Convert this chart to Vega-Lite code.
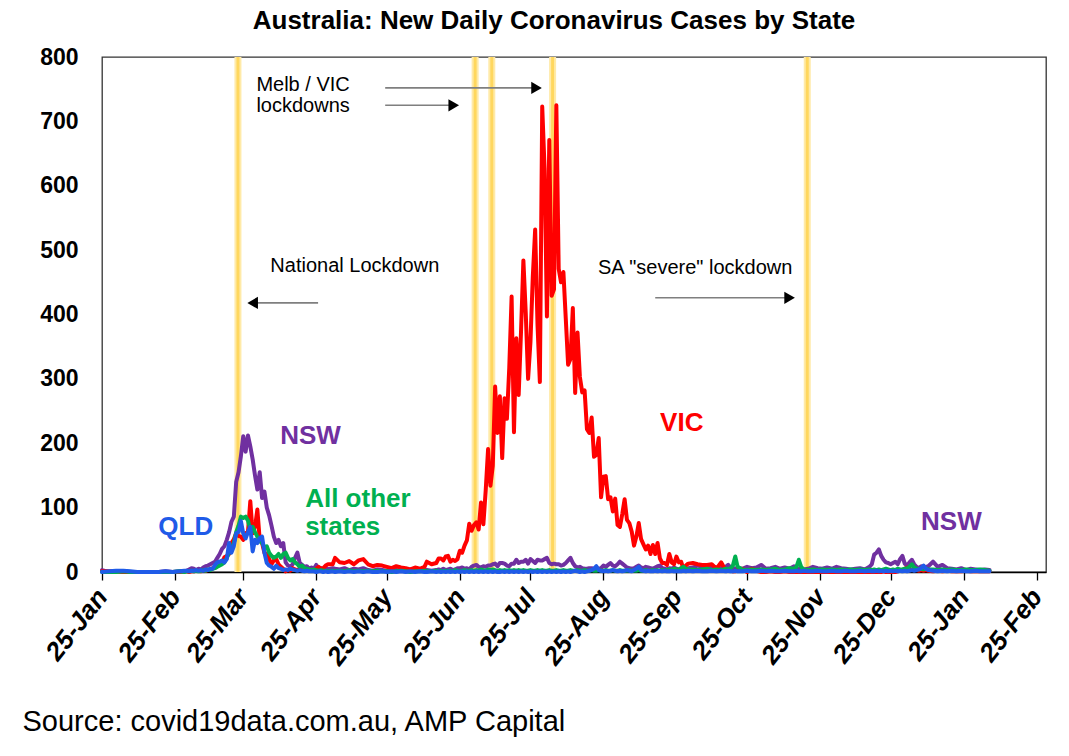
{
  "$schema": "https://vega.github.io/schema/vega-lite/v6.json",
  "width": 944,
  "height": 515,
  "autosize": "none",
  "padding": {"left": 102, "top": 57, "right": 23, "bottom": 184},
  "background": "white",
  "config": {
    "font": "Liberation Sans",
    "view": {"stroke": "#333333", "strokeWidth": 1.3}
  },
  "title": {
    "text": "Australia: New Daily Coronavirus Cases by State",
    "font": "Liberation Sans",
    "fontSize": 26,
    "fontWeight": "bold",
    "color": "black",
    "anchor": "middle",
    "dx": -20,
    "offset": 12
  },
  "datasets": {
    "cases": [
      {"d": "2020-01-25", "NSW": 3, "VIC": 1, "QLD": 0, "OTH": 0},
      {"d": "2020-01-28", "NSW": 0, "VIC": 1, "QLD": 1, "OTH": 0},
      {"d": "2020-01-31", "NSW": 1, "VIC": 1, "QLD": 2, "OTH": 0},
      {"d": "2020-02-03", "NSW": 0, "VIC": 0, "QLD": 2, "OTH": 1},
      {"d": "2020-02-06", "NSW": 0, "VIC": 0, "QLD": 1, "OTH": 0},
      {"d": "2020-02-09", "NSW": 0, "VIC": 0, "QLD": 0, "OTH": 0},
      {"d": "2020-02-12", "NSW": 0, "VIC": 0, "QLD": 0, "OTH": 0},
      {"d": "2020-02-15", "NSW": 0, "VIC": 0, "QLD": 0, "OTH": 0},
      {"d": "2020-02-18", "NSW": 0, "VIC": 0, "QLD": 0, "OTH": 0},
      {"d": "2020-02-21", "NSW": 1, "VIC": 0, "QLD": 1, "OTH": 0},
      {"d": "2020-02-24", "NSW": 0, "VIC": 0, "QLD": 0, "OTH": 0},
      {"d": "2020-02-27", "NSW": 1, "VIC": 0, "QLD": 1, "OTH": 1},
      {"d": "2020-02-29", "NSW": 1, "VIC": 1, "QLD": 2, "OTH": 0},
      {"d": "2020-03-01", "NSW": 2, "VIC": 1, "QLD": 2, "OTH": 1},
      {"d": "2020-03-02", "NSW": 4, "VIC": 0, "QLD": 1, "OTH": 1},
      {"d": "2020-03-03", "NSW": 6, "VIC": 1, "QLD": 2, "OTH": 2},
      {"d": "2020-03-04", "NSW": 5, "VIC": 1, "QLD": 2, "OTH": 1},
      {"d": "2020-03-05", "NSW": 3, "VIC": 2, "QLD": 3, "OTH": 2},
      {"d": "2020-03-06", "NSW": 5, "VIC": 2, "QLD": 2, "OTH": 1},
      {"d": "2020-03-07", "NSW": 4, "VIC": 1, "QLD": 3, "OTH": 2},
      {"d": "2020-03-08", "NSW": 7, "VIC": 3, "QLD": 2, "OTH": 3},
      {"d": "2020-03-09", "NSW": 9, "VIC": 2, "QLD": 4, "OTH": 2},
      {"d": "2020-03-10", "NSW": 10, "VIC": 3, "QLD": 3, "OTH": 4},
      {"d": "2020-03-11", "NSW": 12, "VIC": 4, "QLD": 5, "OTH": 3},
      {"d": "2020-03-12", "NSW": 14, "VIC": 6, "QLD": 5, "OTH": 5},
      {"d": "2020-03-13", "NSW": 16, "VIC": 7, "QLD": 11, "OTH": 6},
      {"d": "2020-03-14", "NSW": 22, "VIC": 9, "QLD": 15, "OTH": 8},
      {"d": "2020-03-15", "NSW": 28, "VIC": 12, "QLD": 16, "OTH": 10},
      {"d": "2020-03-16", "NSW": 36, "VIC": 14, "QLD": 18, "OTH": 12},
      {"d": "2020-03-17", "NSW": 40, "VIC": 23, "QLD": 15, "OTH": 15},
      {"d": "2020-03-18", "NSW": 50, "VIC": 25, "QLD": 20, "OTH": 22},
      {"d": "2020-03-19", "NSW": 62, "VIC": 28, "QLD": 45, "OTH": 30},
      {"d": "2020-03-20", "NSW": 78, "VIC": 45, "QLD": 30, "OTH": 35},
      {"d": "2020-03-21", "NSW": 86, "VIC": 51, "QLD": 40, "OTH": 45},
      {"d": "2020-03-22", "NSW": 140, "VIC": 60, "QLD": 60, "OTH": 62},
      {"d": "2020-03-23", "NSW": 155, "VIC": 56, "QLD": 62, "OTH": 72},
      {"d": "2020-03-24", "NSW": 180, "VIC": 55, "QLD": 79, "OTH": 86},
      {"d": "2020-03-25", "NSW": 211, "VIC": 50, "QLD": 60, "OTH": 84},
      {"d": "2020-03-26", "NSW": 187, "VIC": 60, "QLD": 52, "OTH": 86},
      {"d": "2020-03-27", "NSW": 212, "VIC": 62, "QLD": 62, "OTH": 80},
      {"d": "2020-03-28", "NSW": 195, "VIC": 110, "QLD": 70, "OTH": 66},
      {"d": "2020-03-29", "NSW": 175, "VIC": 60, "QLD": 32, "OTH": 70},
      {"d": "2020-03-30", "NSW": 150, "VIC": 70, "QLD": 50, "OTH": 62},
      {"d": "2020-03-31", "NSW": 128, "VIC": 97, "QLD": 45, "OTH": 55},
      {"d": "2020-04-01", "NSW": 155, "VIC": 50, "QLD": 53, "OTH": 48},
      {"d": "2020-04-02", "NSW": 115, "VIC": 45, "QLD": 55, "OTH": 45},
      {"d": "2020-04-03", "NSW": 125, "VIC": 30, "QLD": 30, "OTH": 38},
      {"d": "2020-04-04", "NSW": 100, "VIC": 28, "QLD": 14, "OTH": 40},
      {"d": "2020-04-05", "NSW": 88, "VIC": 20, "QLD": 10, "OTH": 30},
      {"d": "2020-04-06", "NSW": 72, "VIC": 12, "QLD": 8, "OTH": 25},
      {"d": "2020-04-07", "NSW": 55, "VIC": 18, "QLD": 5, "OTH": 22},
      {"d": "2020-04-08", "NSW": 45, "VIC": 20, "QLD": 10, "OTH": 24},
      {"d": "2020-04-09", "NSW": 50, "VIC": 12, "QLD": 6, "OTH": 28},
      {"d": "2020-04-10", "NSW": 40, "VIC": 8, "QLD": 5, "OTH": 22},
      {"d": "2020-04-11", "NSW": 45, "VIC": 5, "QLD": 3, "OTH": 28},
      {"d": "2020-04-12", "NSW": 15, "VIC": 1, "QLD": 4, "OTH": 30},
      {"d": "2020-04-13", "NSW": 10, "VIC": 3, "QLD": 3, "OTH": 22},
      {"d": "2020-04-14", "NSW": 8, "VIC": 2, "QLD": 5, "OTH": 18},
      {"d": "2020-04-15", "NSW": 12, "VIC": 6, "QLD": 4, "OTH": 20},
      {"d": "2020-04-16", "NSW": 22, "VIC": 4, "QLD": 3, "OTH": 15},
      {"d": "2020-04-17", "NSW": 30, "VIC": 3, "QLD": 2, "OTH": 12},
      {"d": "2020-04-18", "NSW": 14, "VIC": 5, "QLD": 3, "OTH": 8},
      {"d": "2020-04-19", "NSW": 11, "VIC": 3, "QLD": 2, "OTH": 10},
      {"d": "2020-04-20", "NSW": 8, "VIC": 2, "QLD": 1, "OTH": 6},
      {"d": "2020-04-21", "NSW": 9, "VIC": 3, "QLD": 2, "OTH": 5},
      {"d": "2020-04-22", "NSW": 5, "VIC": 2, "QLD": 1, "OTH": 4},
      {"d": "2020-04-23", "NSW": 7, "VIC": 3, "QLD": 1, "OTH": 3},
      {"d": "2020-04-24", "NSW": 5, "VIC": 2, "QLD": 1, "OTH": 4},
      {"d": "2020-04-25", "NSW": 11, "VIC": 5, "QLD": 0, "OTH": 3},
      {"d": "2020-04-26", "NSW": 4, "VIC": 8, "QLD": 1, "OTH": 2},
      {"d": "2020-04-27", "NSW": 6, "VIC": 5, "QLD": 1, "OTH": 3},
      {"d": "2020-04-28", "NSW": 3, "VIC": 6, "QLD": 0, "OTH": 2},
      {"d": "2020-04-29", "NSW": 7, "VIC": 10, "QLD": 1, "OTH": 2},
      {"d": "2020-04-30", "NSW": 4, "VIC": 12, "QLD": 0, "OTH": 1},
      {"d": "2020-05-02", "NSW": 6, "VIC": 12, "QLD": 1, "OTH": 2},
      {"d": "2020-05-03", "NSW": 5, "VIC": 22, "QLD": 0, "OTH": 1},
      {"d": "2020-05-05", "NSW": 4, "VIC": 15, "QLD": 1, "OTH": 2},
      {"d": "2020-05-07", "NSW": 6, "VIC": 14, "QLD": 0, "OTH": 1},
      {"d": "2020-05-09", "NSW": 3, "VIC": 17, "QLD": 1, "OTH": 3},
      {"d": "2020-05-11", "NSW": 5, "VIC": 12, "QLD": 0, "OTH": 1},
      {"d": "2020-05-13", "NSW": 4, "VIC": 18, "QLD": 1, "OTH": 2},
      {"d": "2020-05-15", "NSW": 6, "VIC": 20, "QLD": 0, "OTH": 1},
      {"d": "2020-05-17", "NSW": 3, "VIC": 12, "QLD": 1, "OTH": 2},
      {"d": "2020-05-19", "NSW": 2, "VIC": 9, "QLD": 0, "OTH": 1},
      {"d": "2020-05-21", "NSW": 4, "VIC": 11, "QLD": 0, "OTH": 2},
      {"d": "2020-05-23", "NSW": 3, "VIC": 10, "QLD": 1, "OTH": 1},
      {"d": "2020-05-25", "NSW": 2, "VIC": 8, "QLD": 0, "OTH": 1},
      {"d": "2020-05-27", "NSW": 4, "VIC": 6, "QLD": 1, "OTH": 0},
      {"d": "2020-05-29", "NSW": 3, "VIC": 9, "QLD": 0, "OTH": 1},
      {"d": "2020-05-31", "NSW": 2, "VIC": 7, "QLD": 1, "OTH": 2},
      {"d": "2020-06-02", "NSW": 3, "VIC": 6, "QLD": 0, "OTH": 1},
      {"d": "2020-06-04", "NSW": 2, "VIC": 4, "QLD": 1, "OTH": 0},
      {"d": "2020-06-06", "NSW": 3, "VIC": 7, "QLD": 0, "OTH": 1},
      {"d": "2020-06-08", "NSW": 2, "VIC": 5, "QLD": 1, "OTH": 1},
      {"d": "2020-06-10", "NSW": 4, "VIC": 8, "QLD": 0, "OTH": 2},
      {"d": "2020-06-11", "NSW": 3, "VIC": 16, "QLD": 0, "OTH": 1},
      {"d": "2020-06-13", "NSW": 2, "VIC": 12, "QLD": 1, "OTH": 1},
      {"d": "2020-06-15", "NSW": 3, "VIC": 14, "QLD": 0, "OTH": 2},
      {"d": "2020-06-16", "NSW": 4, "VIC": 21, "QLD": 1, "OTH": 1},
      {"d": "2020-06-17", "NSW": 3, "VIC": 21, "QLD": 0, "OTH": 2},
      {"d": "2020-06-18", "NSW": 5, "VIC": 18, "QLD": 1, "OTH": 1},
      {"d": "2020-06-19", "NSW": 3, "VIC": 24, "QLD": 0, "OTH": 2},
      {"d": "2020-06-20", "NSW": 4, "VIC": 25, "QLD": 1, "OTH": 1},
      {"d": "2020-06-21", "NSW": 5, "VIC": 16, "QLD": 0, "OTH": 2},
      {"d": "2020-06-22", "NSW": 3, "VIC": 19, "QLD": 1, "OTH": 1},
      {"d": "2020-06-23", "NSW": 4, "VIC": 17, "QLD": 0, "OTH": 3},
      {"d": "2020-06-24", "NSW": 6, "VIC": 20, "QLD": 1, "OTH": 2},
      {"d": "2020-06-25", "NSW": 6, "VIC": 33, "QLD": 0, "OTH": 1},
      {"d": "2020-06-26", "NSW": 7, "VIC": 30, "QLD": 1, "OTH": 2},
      {"d": "2020-06-27", "NSW": 5, "VIC": 41, "QLD": 0, "OTH": 3},
      {"d": "2020-06-28", "NSW": 6, "VIC": 49, "QLD": 1, "OTH": 2},
      {"d": "2020-06-29", "NSW": 4, "VIC": 75, "QLD": 0, "OTH": 2},
      {"d": "2020-06-30", "NSW": 8, "VIC": 64, "QLD": 1, "OTH": 3},
      {"d": "2020-07-01", "NSW": 10, "VIC": 73, "QLD": 0, "OTH": 2},
      {"d": "2020-07-02", "NSW": 11, "VIC": 77, "QLD": 1, "OTH": 3},
      {"d": "2020-07-03", "NSW": 8, "VIC": 66, "QLD": 0, "OTH": 2},
      {"d": "2020-07-04", "NSW": 7, "VIC": 108, "QLD": 1, "OTH": 4},
      {"d": "2020-07-05", "NSW": 9, "VIC": 74, "QLD": 0, "OTH": 3},
      {"d": "2020-07-06", "NSW": 8, "VIC": 127, "QLD": 1, "OTH": 2},
      {"d": "2020-07-07", "NSW": 10, "VIC": 191, "QLD": 0, "OTH": 4},
      {"d": "2020-07-08", "NSW": 10, "VIC": 134, "QLD": 1, "OTH": 3},
      {"d": "2020-07-09", "NSW": 12, "VIC": 165, "QLD": 0, "OTH": 4},
      {"d": "2020-07-10", "NSW": 13, "VIC": 288, "QLD": 1, "OTH": 3},
      {"d": "2020-07-11", "NSW": 9, "VIC": 216, "QLD": 0, "OTH": 2},
      {"d": "2020-07-12", "NSW": 14, "VIC": 273, "QLD": 0, "OTH": 3},
      {"d": "2020-07-13", "NSW": 14, "VIC": 177, "QLD": 1, "OTH": 2},
      {"d": "2020-07-14", "NSW": 13, "VIC": 270, "QLD": 0, "OTH": 3},
      {"d": "2020-07-15", "NSW": 10, "VIC": 238, "QLD": 1, "OTH": 2},
      {"d": "2020-07-16", "NSW": 9, "VIC": 317, "QLD": 0, "OTH": 3},
      {"d": "2020-07-17", "NSW": 13, "VIC": 428, "QLD": 1, "OTH": 2},
      {"d": "2020-07-18", "NSW": 13, "VIC": 217, "QLD": 0, "OTH": 3},
      {"d": "2020-07-19", "NSW": 19, "VIC": 363, "QLD": 1, "OTH": 2},
      {"d": "2020-07-20", "NSW": 14, "VIC": 275, "QLD": 0, "OTH": 3},
      {"d": "2020-07-21", "NSW": 16, "VIC": 374, "QLD": 1, "OTH": 2},
      {"d": "2020-07-22", "NSW": 16, "VIC": 484, "QLD": 0, "OTH": 3},
      {"d": "2020-07-23", "NSW": 19, "VIC": 403, "QLD": 1, "OTH": 2},
      {"d": "2020-07-24", "NSW": 13, "VIC": 300, "QLD": 0, "OTH": 2},
      {"d": "2020-07-25", "NSW": 20, "VIC": 357, "QLD": 1, "OTH": 3},
      {"d": "2020-07-26", "NSW": 17, "VIC": 459, "QLD": 0, "OTH": 2},
      {"d": "2020-07-27", "NSW": 14, "VIC": 532, "QLD": 1, "OTH": 2},
      {"d": "2020-07-28", "NSW": 19, "VIC": 384, "QLD": 0, "OTH": 3},
      {"d": "2020-07-29", "NSW": 18, "VIC": 295, "QLD": 1, "OTH": 2},
      {"d": "2020-07-30", "NSW": 18, "VIC": 723, "QLD": 0, "OTH": 3},
      {"d": "2020-07-31", "NSW": 20, "VIC": 627, "QLD": 1, "OTH": 2},
      {"d": "2020-08-01", "NSW": 22, "VIC": 397, "QLD": 0, "OTH": 2},
      {"d": "2020-08-02", "NSW": 14, "VIC": 671, "QLD": 1, "OTH": 3},
      {"d": "2020-08-03", "NSW": 12, "VIC": 429, "QLD": 0, "OTH": 2},
      {"d": "2020-08-04", "NSW": 13, "VIC": 439, "QLD": 1, "OTH": 2},
      {"d": "2020-08-05", "NSW": 12, "VIC": 725, "QLD": 0, "OTH": 3},
      {"d": "2020-08-06", "NSW": 12, "VIC": 471, "QLD": 1, "OTH": 2},
      {"d": "2020-08-07", "NSW": 10, "VIC": 450, "QLD": 0, "OTH": 2},
      {"d": "2020-08-08", "NSW": 11, "VIC": 466, "QLD": 1, "OTH": 3},
      {"d": "2020-08-09", "NSW": 14, "VIC": 394, "QLD": 0, "OTH": 2},
      {"d": "2020-08-10", "NSW": 18, "VIC": 322, "QLD": 1, "OTH": 2},
      {"d": "2020-08-11", "NSW": 22, "VIC": 331, "QLD": 0, "OTH": 3},
      {"d": "2020-08-12", "NSW": 14, "VIC": 410, "QLD": 1, "OTH": 2},
      {"d": "2020-08-13", "NSW": 9, "VIC": 278, "QLD": 2, "OTH": 2},
      {"d": "2020-08-14", "NSW": 7, "VIC": 372, "QLD": 1, "OTH": 3},
      {"d": "2020-08-15", "NSW": 8, "VIC": 303, "QLD": 0, "OTH": 2},
      {"d": "2020-08-16", "NSW": 6, "VIC": 279, "QLD": 1, "OTH": 2},
      {"d": "2020-08-17", "NSW": 5, "VIC": 282, "QLD": 0, "OTH": 3},
      {"d": "2020-08-18", "NSW": 5, "VIC": 222, "QLD": 1, "OTH": 2},
      {"d": "2020-08-19", "NSW": 6, "VIC": 216, "QLD": 2, "OTH": 2},
      {"d": "2020-08-20", "NSW": 6, "VIC": 240, "QLD": 3, "OTH": 3},
      {"d": "2020-08-21", "NSW": 5, "VIC": 179, "QLD": 5, "OTH": 2},
      {"d": "2020-08-22", "NSW": 4, "VIC": 182, "QLD": 9, "OTH": 2},
      {"d": "2020-08-23", "NSW": 5, "VIC": 208, "QLD": 3, "OTH": 3},
      {"d": "2020-08-24", "NSW": 6, "VIC": 116, "QLD": 2, "OTH": 2},
      {"d": "2020-08-25", "NSW": 10, "VIC": 148, "QLD": 1, "OTH": 2},
      {"d": "2020-08-26", "NSW": 8, "VIC": 149, "QLD": 2, "OTH": 3},
      {"d": "2020-08-27", "NSW": 11, "VIC": 113, "QLD": 1, "OTH": 2},
      {"d": "2020-08-28", "NSW": 14, "VIC": 116, "QLD": 2, "OTH": 2},
      {"d": "2020-08-29", "NSW": 10, "VIC": 94, "QLD": 3, "OTH": 3},
      {"d": "2020-08-30", "NSW": 9, "VIC": 114, "QLD": 2, "OTH": 2},
      {"d": "2020-08-31", "NSW": 12, "VIC": 73, "QLD": 1, "OTH": 2},
      {"d": "2020-09-01", "NSW": 16, "VIC": 70, "QLD": 2, "OTH": 3},
      {"d": "2020-09-02", "NSW": 13, "VIC": 90, "QLD": 1, "OTH": 2},
      {"d": "2020-09-03", "NSW": 10, "VIC": 113, "QLD": 2, "OTH": 2},
      {"d": "2020-09-04", "NSW": 7, "VIC": 81, "QLD": 3, "OTH": 2},
      {"d": "2020-09-05", "NSW": 6, "VIC": 76, "QLD": 2, "OTH": 3},
      {"d": "2020-09-06", "NSW": 5, "VIC": 63, "QLD": 1, "OTH": 2},
      {"d": "2020-09-07", "NSW": 6, "VIC": 41, "QLD": 3, "OTH": 2},
      {"d": "2020-09-08", "NSW": 8, "VIC": 55, "QLD": 5, "OTH": 2},
      {"d": "2020-09-09", "NSW": 10, "VIC": 76, "QLD": 8, "OTH": 3},
      {"d": "2020-09-10", "NSW": 7, "VIC": 51, "QLD": 3, "OTH": 2},
      {"d": "2020-09-11", "NSW": 6, "VIC": 43, "QLD": 2, "OTH": 2},
      {"d": "2020-09-12", "NSW": 8, "VIC": 35, "QLD": 1, "OTH": 3},
      {"d": "2020-09-13", "NSW": 7, "VIC": 41, "QLD": 2, "OTH": 2},
      {"d": "2020-09-14", "NSW": 6, "VIC": 28, "QLD": 1, "OTH": 2},
      {"d": "2020-09-15", "NSW": 5, "VIC": 42, "QLD": 1, "OTH": 3},
      {"d": "2020-09-16", "NSW": 7, "VIC": 28, "QLD": 2, "OTH": 2},
      {"d": "2020-09-17", "NSW": 9, "VIC": 45, "QLD": 1, "OTH": 3},
      {"d": "2020-09-18", "NSW": 10, "VIC": 21, "QLD": 2, "OTH": 2},
      {"d": "2020-09-19", "NSW": 6, "VIC": 14, "QLD": 1, "OTH": 3},
      {"d": "2020-09-20", "NSW": 5, "VIC": 14, "QLD": 2, "OTH": 2},
      {"d": "2020-09-21", "NSW": 4, "VIC": 11, "QLD": 1, "OTH": 3},
      {"d": "2020-09-22", "NSW": 6, "VIC": 28, "QLD": 1, "OTH": 4},
      {"d": "2020-09-23", "NSW": 5, "VIC": 15, "QLD": 2, "OTH": 3},
      {"d": "2020-09-24", "NSW": 7, "VIC": 12, "QLD": 1, "OTH": 5},
      {"d": "2020-09-25", "NSW": 5, "VIC": 24, "QLD": 1, "OTH": 4},
      {"d": "2020-09-26", "NSW": 4, "VIC": 15, "QLD": 1, "OTH": 3},
      {"d": "2020-09-27", "NSW": 6, "VIC": 16, "QLD": 1, "OTH": 6},
      {"d": "2020-09-28", "NSW": 5, "VIC": 5, "QLD": 2, "OTH": 8},
      {"d": "2020-09-29", "NSW": 4, "VIC": 10, "QLD": 1, "OTH": 5},
      {"d": "2020-09-30", "NSW": 6, "VIC": 13, "QLD": 2, "OTH": 4},
      {"d": "2020-10-02", "NSW": 7, "VIC": 14, "QLD": 1, "OTH": 4},
      {"d": "2020-10-04", "NSW": 10, "VIC": 12, "QLD": 2, "OTH": 3},
      {"d": "2020-10-06", "NSW": 8, "VIC": 11, "QLD": 1, "OTH": 4},
      {"d": "2020-10-08", "NSW": 6, "VIC": 11, "QLD": 1, "OTH": 5},
      {"d": "2020-10-10", "NSW": 9, "VIC": 12, "QLD": 2, "OTH": 3},
      {"d": "2020-10-12", "NSW": 7, "VIC": 5, "QLD": 1, "OTH": 4},
      {"d": "2020-10-14", "NSW": 6, "VIC": 15, "QLD": 2, "OTH": 3},
      {"d": "2020-10-16", "NSW": 8, "VIC": 2, "QLD": 1, "OTH": 5},
      {"d": "2020-10-17", "NSW": 11, "VIC": 2, "QLD": 2, "OTH": 4},
      {"d": "2020-10-18", "NSW": 7, "VIC": 4, "QLD": 1, "OTH": 6},
      {"d": "2020-10-19", "NSW": 6, "VIC": 1, "QLD": 1, "OTH": 10},
      {"d": "2020-10-20", "NSW": 5, "VIC": 1, "QLD": 2, "OTH": 24},
      {"d": "2020-10-21", "NSW": 6, "VIC": 3, "QLD": 1, "OTH": 8},
      {"d": "2020-10-23", "NSW": 5, "VIC": 5, "QLD": 1, "OTH": 4},
      {"d": "2020-10-25", "NSW": 8, "VIC": 0, "QLD": 2, "OTH": 3},
      {"d": "2020-10-27", "NSW": 6, "VIC": 5, "QLD": 1, "OTH": 4},
      {"d": "2020-10-29", "NSW": 7, "VIC": 2, "QLD": 1, "OTH": 3},
      {"d": "2020-10-31", "NSW": 11, "VIC": 0, "QLD": 2, "OTH": 4},
      {"d": "2020-11-02", "NSW": 5, "VIC": 0, "QLD": 1, "OTH": 3},
      {"d": "2020-11-04", "NSW": 6, "VIC": 1, "QLD": 2, "OTH": 4},
      {"d": "2020-11-06", "NSW": 8, "VIC": 0, "QLD": 1, "OTH": 5},
      {"d": "2020-11-08", "NSW": 5, "VIC": 0, "QLD": 1, "OTH": 3},
      {"d": "2020-11-10", "NSW": 7, "VIC": 1, "QLD": 2, "OTH": 4},
      {"d": "2020-11-12", "NSW": 5, "VIC": 0, "QLD": 1, "OTH": 6},
      {"d": "2020-11-14", "NSW": 9, "VIC": 0, "QLD": 1, "OTH": 5},
      {"d": "2020-11-15", "NSW": 6, "VIC": 0, "QLD": 2, "OTH": 8},
      {"d": "2020-11-16", "NSW": 5, "VIC": 0, "QLD": 1, "OTH": 19},
      {"d": "2020-11-17", "NSW": 6, "VIC": 0, "QLD": 1, "OTH": 8},
      {"d": "2020-11-18", "NSW": 4, "VIC": 0, "QLD": 2, "OTH": 4},
      {"d": "2020-11-20", "NSW": 5, "VIC": 0, "QLD": 1, "OTH": 3},
      {"d": "2020-11-22", "NSW": 8, "VIC": 0, "QLD": 1, "OTH": 4},
      {"d": "2020-11-24", "NSW": 6, "VIC": 0, "QLD": 2, "OTH": 3},
      {"d": "2020-11-26", "NSW": 5, "VIC": 0, "QLD": 1, "OTH": 4},
      {"d": "2020-11-28", "NSW": 7, "VIC": 0, "QLD": 1, "OTH": 3},
      {"d": "2020-11-30", "NSW": 5, "VIC": 0, "QLD": 2, "OTH": 4},
      {"d": "2020-12-02", "NSW": 8, "VIC": 0, "QLD": 1, "OTH": 3},
      {"d": "2020-12-04", "NSW": 6, "VIC": 0, "QLD": 1, "OTH": 4},
      {"d": "2020-12-06", "NSW": 5, "VIC": 0, "QLD": 2, "OTH": 3},
      {"d": "2020-12-08", "NSW": 4, "VIC": 0, "QLD": 1, "OTH": 4},
      {"d": "2020-12-10", "NSW": 5, "VIC": 0, "QLD": 1, "OTH": 3},
      {"d": "2020-12-12", "NSW": 6, "VIC": 0, "QLD": 2, "OTH": 4},
      {"d": "2020-12-14", "NSW": 4, "VIC": 0, "QLD": 1, "OTH": 3},
      {"d": "2020-12-16", "NSW": 8, "VIC": 0, "QLD": 2, "OTH": 4},
      {"d": "2020-12-17", "NSW": 12, "VIC": 0, "QLD": 1, "OTH": 3},
      {"d": "2020-12-18", "NSW": 27, "VIC": 0, "QLD": 1, "OTH": 4},
      {"d": "2020-12-19", "NSW": 30, "VIC": 0, "QLD": 2, "OTH": 3},
      {"d": "2020-12-20", "NSW": 35, "VIC": 0, "QLD": 1, "OTH": 4},
      {"d": "2020-12-21", "NSW": 25, "VIC": 0, "QLD": 2, "OTH": 3},
      {"d": "2020-12-22", "NSW": 19, "VIC": 1, "QLD": 1, "OTH": 4},
      {"d": "2020-12-23", "NSW": 15, "VIC": 0, "QLD": 2, "OTH": 5},
      {"d": "2020-12-24", "NSW": 14, "VIC": 0, "QLD": 1, "OTH": 4},
      {"d": "2020-12-25", "NSW": 12, "VIC": 0, "QLD": 2, "OTH": 3},
      {"d": "2020-12-26", "NSW": 14, "VIC": 0, "QLD": 1, "OTH": 4},
      {"d": "2020-12-27", "NSW": 16, "VIC": 0, "QLD": 2, "OTH": 3},
      {"d": "2020-12-28", "NSW": 12, "VIC": 1, "QLD": 1, "OTH": 5},
      {"d": "2020-12-29", "NSW": 20, "VIC": 2, "QLD": 2, "OTH": 4},
      {"d": "2020-12-30", "NSW": 25, "VIC": 3, "QLD": 1, "OTH": 4},
      {"d": "2020-12-31", "NSW": 13, "VIC": 5, "QLD": 2, "OTH": 5},
      {"d": "2021-01-01", "NSW": 10, "VIC": 7, "QLD": 1, "OTH": 6},
      {"d": "2021-01-02", "NSW": 15, "VIC": 5, "QLD": 2, "OTH": 8},
      {"d": "2021-01-03", "NSW": 19, "VIC": 3, "QLD": 3, "OTH": 12},
      {"d": "2021-01-04", "NSW": 12, "VIC": 4, "QLD": 2, "OTH": 7},
      {"d": "2021-01-05", "NSW": 8, "VIC": 3, "QLD": 3, "OTH": 5},
      {"d": "2021-01-06", "NSW": 6, "VIC": 2, "QLD": 4, "OTH": 4},
      {"d": "2021-01-07", "NSW": 9, "VIC": 3, "QLD": 6, "OTH": 5},
      {"d": "2021-01-08", "NSW": 7, "VIC": 2, "QLD": 10, "OTH": 4},
      {"d": "2021-01-09", "NSW": 8, "VIC": 3, "QLD": 5, "OTH": 5},
      {"d": "2021-01-10", "NSW": 9, "VIC": 2, "QLD": 3, "OTH": 4},
      {"d": "2021-01-12", "NSW": 16, "VIC": 1, "QLD": 2, "OTH": 4},
      {"d": "2021-01-14", "NSW": 8, "VIC": 2, "QLD": 1, "OTH": 3},
      {"d": "2021-01-16", "NSW": 11, "VIC": 1, "QLD": 2, "OTH": 4},
      {"d": "2021-01-18", "NSW": 6, "VIC": 2, "QLD": 1, "OTH": 3},
      {"d": "2021-01-20", "NSW": 5, "VIC": 1, "QLD": 2, "OTH": 4},
      {"d": "2021-01-22", "NSW": 4, "VIC": 1, "QLD": 1, "OTH": 3},
      {"d": "2021-01-24", "NSW": 6, "VIC": 1, "QLD": 2, "OTH": 3},
      {"d": "2021-01-26", "NSW": 3, "VIC": 2, "QLD": 1, "OTH": 4},
      {"d": "2021-01-28", "NSW": 5, "VIC": 1, "QLD": 1, "OTH": 3},
      {"d": "2021-01-30", "NSW": 4, "VIC": 1, "QLD": 2, "OTH": 3},
      {"d": "2021-02-01", "NSW": 3, "VIC": 1, "QLD": 1, "OTH": 4},
      {"d": "2021-02-03", "NSW": 4, "VIC": 1, "QLD": 1, "OTH": 3},
      {"d": "2021-02-05", "NSW": 3, "VIC": 1, "QLD": 1, "OTH": 2}
    ],
    "bands": [
      {"d": "2020-03-22T18:00:00Z"},
      {"d": "2020-07-01T12:00:00Z"},
      {"d": "2020-07-08T14:00:00Z"},
      {"d": "2020-08-03T10:00:00Z"},
      {"d": "2020-11-19T14:00:00Z"}
    ],
    "notes": [
      {"d": "2020-03-30T14:00:00Z", "v": 757, "t": "Melb / VIC\nlockdowns"},
      {"d": "2020-04-05T12:00:00Z", "v": 476, "t": "National Lockdown"},
      {"d": "2020-08-22T17:00:00Z", "v": 472, "t": "SA \"severe\" lockdown"}
    ],
    "labels": [
      {"d": "2020-04-09T17:00:00Z", "v": 212, "s": "NSW", "t": "NSW"},
      {"d": "2020-02-17T22:00:00Z", "v": 70, "s": "QLD", "t": "QLD"},
      {"d": "2020-04-20T07:00:00Z", "v": 114, "s": "OTH", "t": "All other\nstates"},
      {"d": "2020-09-18T02:00:00Z", "v": 232, "s": "VIC", "t": "VIC"},
      {"d": "2021-01-06T22:00:00Z", "v": 78, "s": "NSW", "t": "NSW"}
    ],
    "shafts": [
      {"d": "2020-05-24T07:00:00Z", "d2": "2020-07-27T14:00:00Z", "v": 752},
      {"d": "2020-05-24T07:00:00Z", "d2": "2020-06-22T10:00:00Z", "v": 725},
      {"d": "2020-04-25T19:00:00Z", "d2": "2020-03-29T00:00:00Z", "v": 418},
      {"d": "2020-09-16T00:00:00Z", "d2": "2020-11-12T02:00:00Z", "v": 426}
    ],
    "heads": [
      {"d": "2020-07-27T14:00:00Z", "v": 752, "dir": "right"},
      {"d": "2020-06-22T10:00:00Z", "v": 725, "dir": "right"},
      {"d": "2020-03-29T00:00:00Z", "v": 418, "dir": "left"},
      {"d": "2020-11-12T02:00:00Z", "v": 426, "dir": "right"}
    ]
  },
  "layer": [
    {
      "data": {"name": "bands"},
      "mark": {"type": "rule", "color": "#FFEAA8", "strokeWidth": 7},
      "encoding": {"x": {"field": "d", "type": "temporal"}}
    },
    {
      "data": {"name": "bands"},
      "mark": {"type": "rule", "color": "#FFD75E", "strokeWidth": 3},
      "encoding": {"x": {"field": "d", "type": "temporal"}}
    },
    {
      "data": {"name": "cases"},
      "transform": [{"fold": ["NSW", "VIC", "OTH", "QLD"], "as": ["key", "v"]}],
      "mark": {"type": "line", "strokeWidth": 4, "strokeJoin": "round", "strokeCap": "round"},
      "encoding": {
        "x": {
          "field": "d",
          "type": "temporal",
          "scale": {
            "type": "utc",
            "domain": [
              {"year": 2020, "month": 1, "date": 25, "utc": true},
              {"year": 2021, "month": 3, "date": 1, "utc": true}
            ]
          },
          "axis": {
            "title": "Source: covid19data.com.au, AMP Capital",
            "titleFont": "Liberation Sans",
            "titleFontSize": 29,
            "titleFontWeight": "normal",
            "titleColor": "black",
            "titleAnchor": "start",
            "titleAlign": "left",
            "titleBaseline": "middle",
            "titleAngle": 0,
            "titleX": -80,
            "titleY": 149,
            "values": [
              {"year": 2020, "month": 1, "date": 25, "utc": true},
              {"year": 2020, "month": 2, "date": 25, "utc": true},
              {"year": 2020, "month": 3, "date": 25, "utc": true},
              {"year": 2020, "month": 4, "date": 25, "utc": true},
              {"year": 2020, "month": 5, "date": 25, "utc": true},
              {"year": 2020, "month": 6, "date": 25, "utc": true},
              {"year": 2020, "month": 7, "date": 25, "utc": true},
              {"year": 2020, "month": 8, "date": 25, "utc": true},
              {"year": 2020, "month": 9, "date": 25, "utc": true},
              {"year": 2020, "month": 10, "date": 25, "utc": true},
              {"year": 2020, "month": 11, "date": 25, "utc": true},
              {"year": 2020, "month": 12, "date": 25, "utc": true},
              {"year": 2021, "month": 1, "date": 25, "utc": true},
              {"year": 2021, "month": 2, "date": 25, "utc": true}
            ],
            "format": "%d-%b",
            "labelAngle": -52,
            "labelAlign": "right",
            "labelBaseline": "middle",
            "labelFont": "Liberation Sans",
            "labelFontSize": 26,
            "labelFontWeight": "bold",
            "labelFontStyle": "italic",
            "labelColor": "black",
            "labelPadding": 12,
            "labelOverlap": false,
            "labelFlush": false,
            "tickSize": 8,
            "tickColor": "black",
            "tickWidth": 1.3,
            "domainColor": "black",
            "domainWidth": 1.5,
            "grid": false
          }
        },
        "y": {
          "field": "v",
          "type": "quantitative",
          "scale": {"domain": [0, 800], "nice": false},
          "axis": {
            "title": null,
            "values": [0, 100, 200, 300, 400, 500, 600, 700, 800],
            "labelFont": "Liberation Sans",
            "labelFontSize": 23,
            "labelFontWeight": "bold",
            "labelColor": "black",
            "labelPadding": 24,
            "ticks": false,
            "domain": false,
            "grid": false
          }
        },
        "color": {
          "field": "key",
          "type": "nominal",
          "scale": {
            "domain": ["NSW", "VIC", "OTH", "QLD"],
            "range": ["#7030A0", "#FF0000", "#00B050", "#1F5BE8"]
          },
          "legend": null
        }
      }
    },
    {
      "data": {"name": "shafts"},
      "mark": {"type": "rule", "color": "#7F7F7F", "strokeWidth": 1.6},
      "encoding": {
        "x": {"field": "d", "type": "temporal"},
        "x2": {"field": "d2"},
        "y": {"field": "v", "type": "quantitative"}
      }
    },
    {
      "data": {"name": "heads"},
      "mark": {"type": "point", "filled": true, "color": "black", "opacity": 1, "size": 150},
      "encoding": {
        "x": {"field": "d", "type": "temporal"},
        "y": {"field": "v", "type": "quantitative"},
        "shape": {
          "field": "dir",
          "type": "nominal",
          "scale": {"domain": ["right", "left"], "range": ["triangle-right", "triangle-left"]},
          "legend": null
        }
      }
    },
    {
      "data": {"name": "notes"},
      "mark": {
        "type": "text",
        "align": "left",
        "baseline": "middle",
        "font": "Liberation Sans",
        "fontSize": 20,
        "color": "black",
        "lineBreak": "\n",
        "lineHeight": 21
      },
      "encoding": {
        "x": {"field": "d", "type": "temporal"},
        "y": {"field": "v", "type": "quantitative"},
        "text": {"field": "t", "type": "nominal"}
      }
    },
    {
      "data": {"name": "labels"},
      "mark": {
        "type": "text",
        "align": "left",
        "baseline": "middle",
        "font": "Liberation Sans",
        "fontSize": 26,
        "fontWeight": "bold",
        "lineBreak": "\n",
        "lineHeight": 28
      },
      "encoding": {
        "x": {"field": "d", "type": "temporal"},
        "y": {"field": "v", "type": "quantitative"},
        "text": {"field": "t", "type": "nominal"},
        "color": {"field": "s", "type": "nominal", "legend": null}
      }
    }
  ]
}
